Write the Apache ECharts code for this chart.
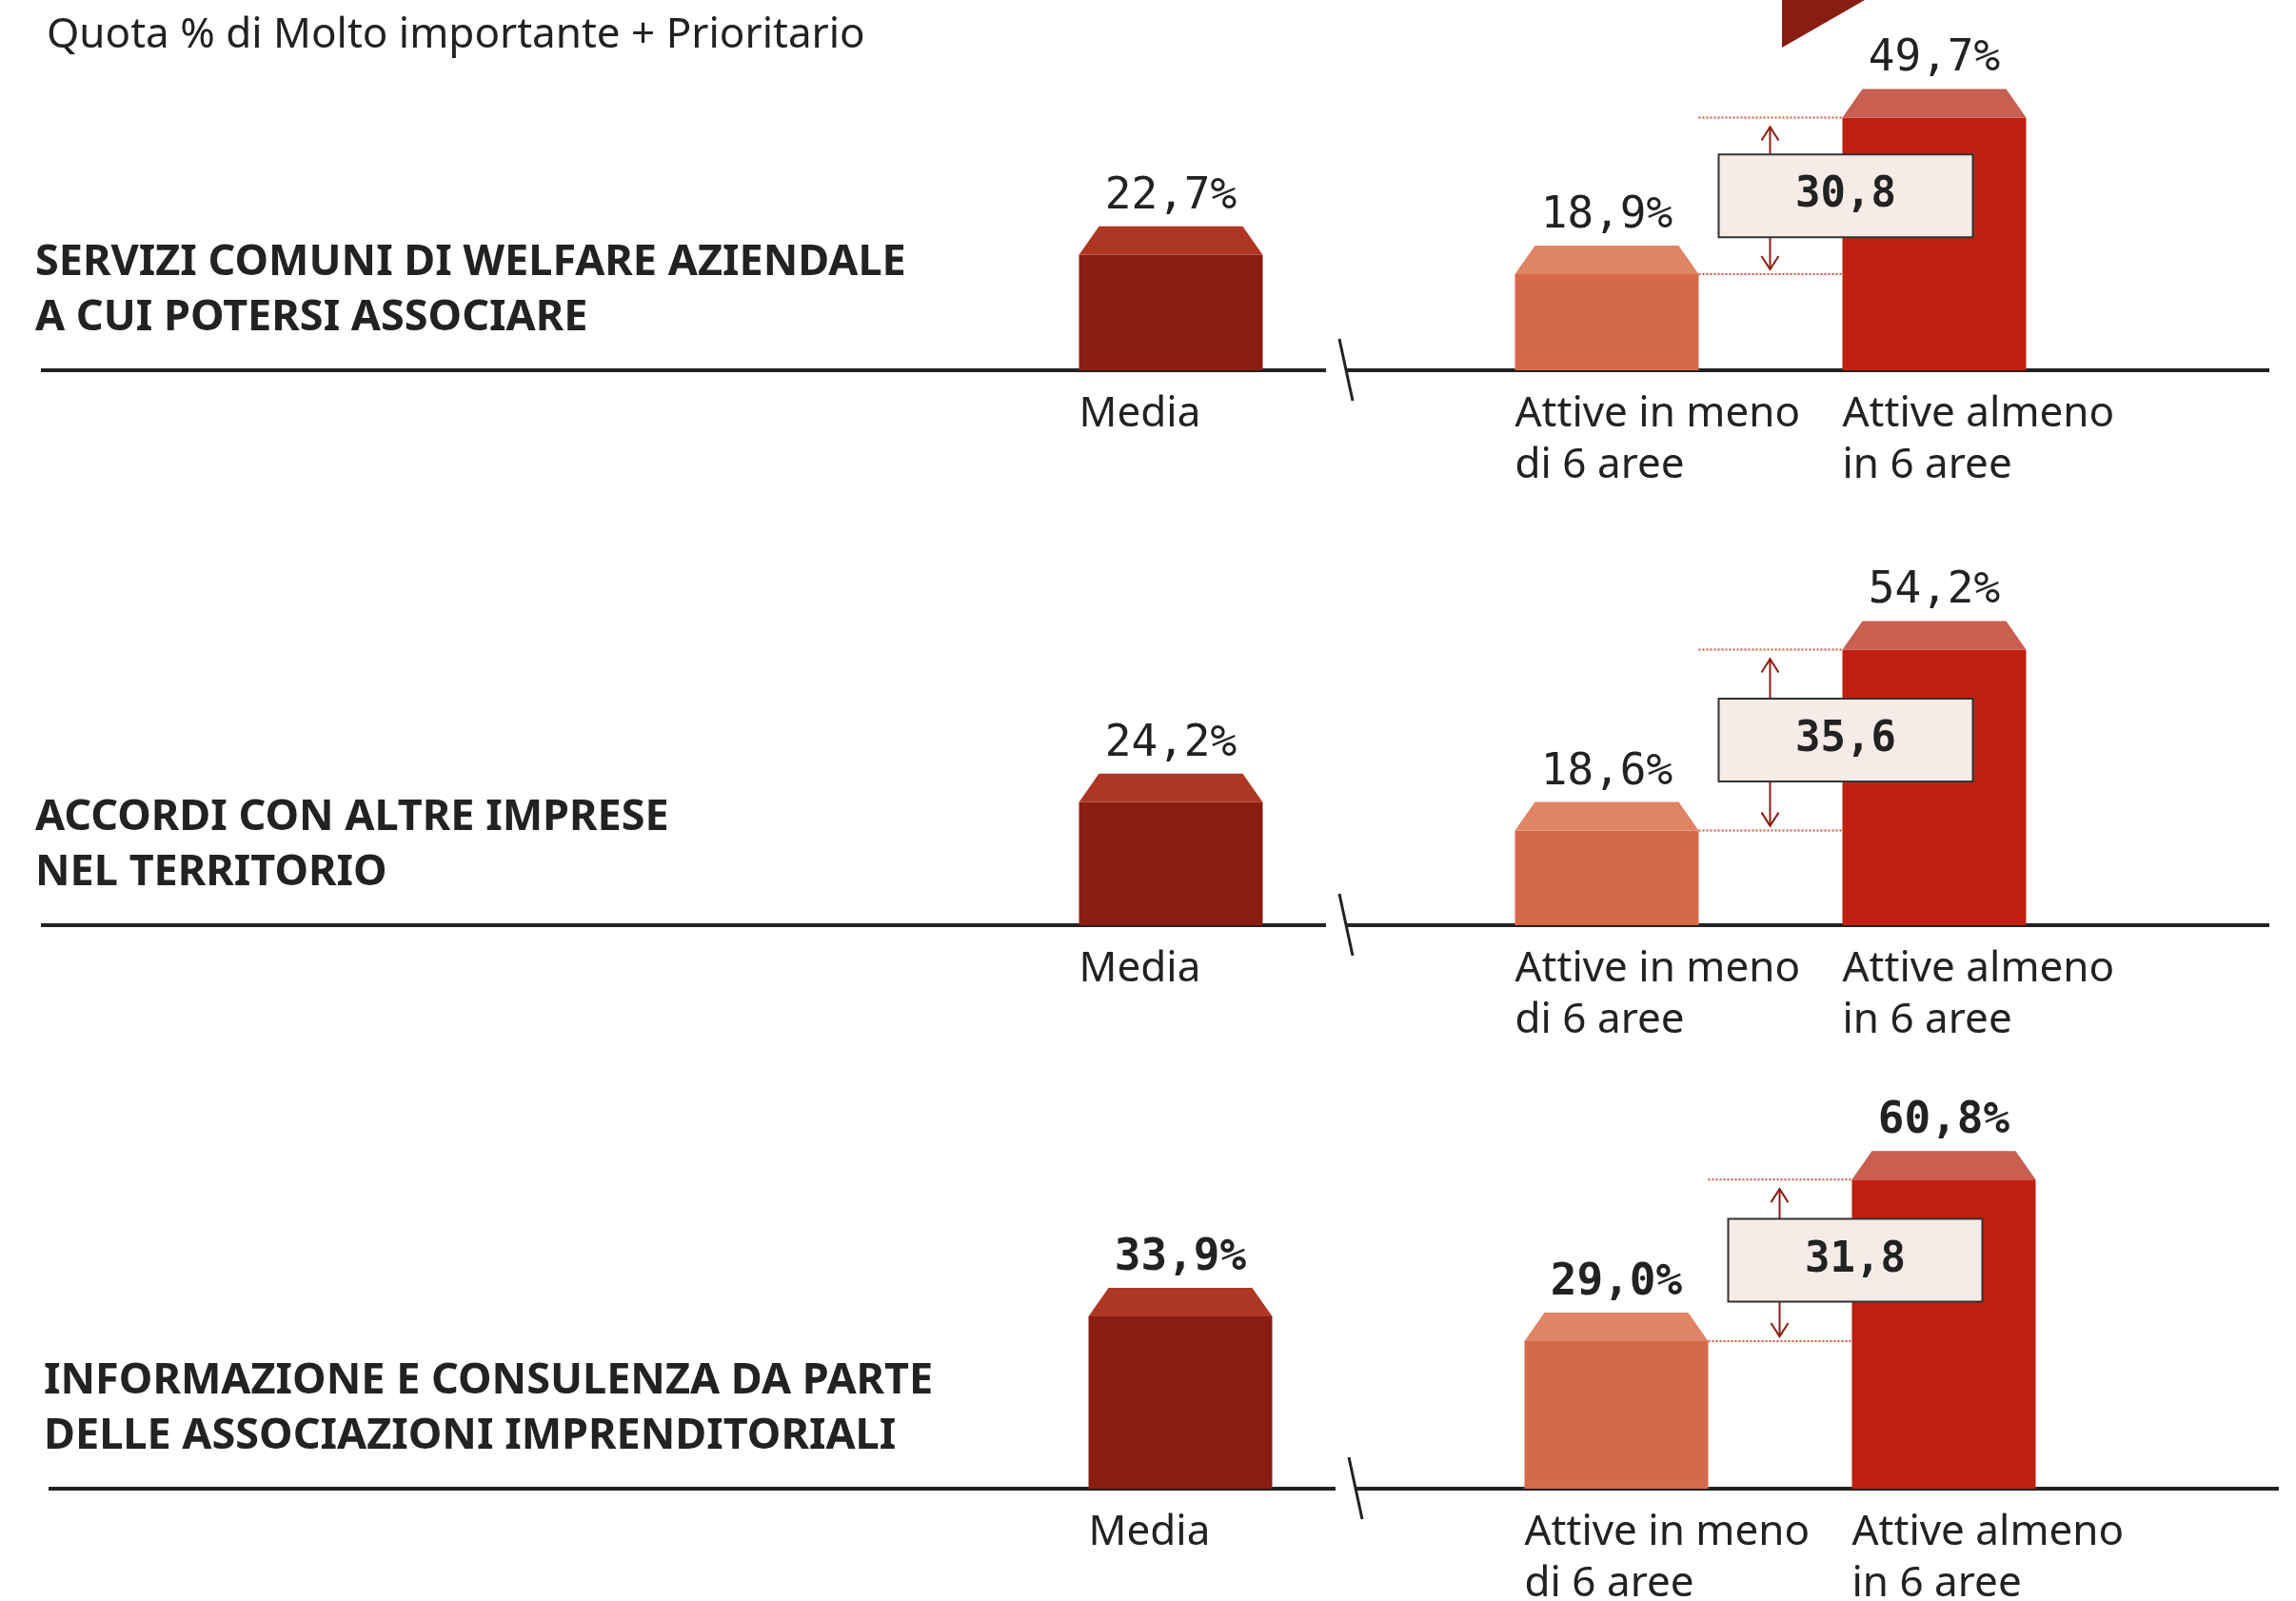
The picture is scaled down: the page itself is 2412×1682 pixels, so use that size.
<!DOCTYPE html>
<html>
<head>
<meta charset="utf-8">
<script src="https://cdn.jsdelivr.net/npm/echarts@6/dist/echarts.min.js"></script>
<style>
  html, body { margin: 0; padding: 0; background: #fff; }
  #main { width: 2412px; height: 1682px; }
</style>
</head>
<body>
<div id="main"></div>
<script>
// data
const heading = 'Quota % di Molto importante + Prioritario';
const topics = [
  'SERVIZI COMUNI DI WELFARE AZIENDALE\nA CUI POTERSI ASSOCIARE',
  'ACCORDI CON ALTRE IMPRESE\nNEL TERRITORIO',
  'INFORMAZIONE E CONSULENZA DA PARTE\nDELLE ASSOCIAZIONI IMPRENDITORIALI'
];
const categories = ['Media', 'Attive in meno\ndi 6 aree', 'Attive almeno\nin 6 aree'];
const mediaValues = [22.7, 24.2, 33.9];
const menoValues = [18.9, 18.6, 29.0];
const almenoValues = [49.7, 54.2, 60.8];
const gapLabels = ['30,8', '35,6', '31,8'];

// layout
const baselines = [389, 972, 1564];
const shiftX = [0, 0, 10];
const topicTops = [247, 830, 1422];
const boldPanel = [false, false, true];
const BAR_W = 193;
const CAP_H = 30;
const CAP_IN = 21;
const PX_PER_PCT = 374 / 70;
const bodyColors = ['#891d11', '#d46a48', '#c02011'];
const capColors = ['#ae3724', '#e08466', '#c85f50'];
const INK = '#222';

var chartDom = document.getElementById('main');
var myChart = echarts.init(chartDom);

function fmt(v) {
  return v.toFixed(1).replace('.', ',') + '%';
}

function barRenderer(colorOffset, bold) {
  return function (params, api) {
    var idx = api.value(0);
    var v = api.value(1);
    var top = api.coord([idx, v]);
    var base = api.coord([idx, 0]);
    var x0 = top[0] - BAR_W / 2;
    var c = colorOffset + idx;
    return {
      type: 'group',
      children: [
        { type: 'rect', shape: { x: x0, y: top[1], width: BAR_W, height: base[1] - top[1] },
          style: { fill: bodyColors[c] } },
        { type: 'polygon',
          shape: { points: [[x0, top[1]], [x0 + CAP_IN, top[1] - CAP_H], [x0 + BAR_W - CAP_IN, top[1] - CAP_H], [x0 + BAR_W, top[1]]] },
          style: { fill: capColors[c] } },
        { type: 'text', x: top[0], y: top[1] - 61,
          style: { text: fmt(v), fill: INK, align: 'center', verticalAlign: 'middle',
                   font: (bold ? 'bold ' : '') + '46px "DejaVu Sans Mono"' } },
        { type: 'text', x: x0, y: base[1] + 19,
          style: { text: categories[c], fill: INK, align: 'left', verticalAlign: 'top',
                   font: '44px "Noto Sans"', lineHeight: 54 } }
      ]
    };
  };
}

function gapRenderer(p) {
  return function (params, api) {
    var lo = api.coord([0, api.value(0)]);
    var hi = api.coord([1, api.value(1)]);
    var left = lo[0] + BAR_W / 2;
    var right = hi[0] - BAR_W / 2;
    var bw = 267, bh = 87;
    var bx = left + 21;
    var by = (lo[1] + hi[1]) / 2 - bh / 2;
    var ax = bx + 54;
    var upTip = hi[1] + 10;
    var downTip = lo[1] - 5;
    var arrowStyle = { stroke: '#8b1c11', lineWidth: 2, fill: null };
    var dotStyle = { stroke: '#d9503f', lineWidth: 2, lineDash: [2, 2] };
    return {
      type: 'group',
      children: [
        { type: 'line', shape: { x1: left, y1: hi[1], x2: right, y2: hi[1] }, style: dotStyle },
        { type: 'line', shape: { x1: left, y1: lo[1], x2: right, y2: lo[1] }, style: dotStyle },
        { type: 'line', shape: { x1: ax, y1: by, x2: ax, y2: upTip }, style: arrowStyle },
        { type: 'polyline', shape: { points: [[ax - 9, upTip + 14], [ax, upTip], [ax + 9, upTip + 14]] }, style: arrowStyle },
        { type: 'line', shape: { x1: ax, y1: by + bh, x2: ax, y2: downTip }, style: arrowStyle },
        { type: 'polyline', shape: { points: [[ax - 9, downTip - 14], [ax, downTip], [ax + 9, downTip - 14]] }, style: arrowStyle },
        { type: 'rect', shape: { x: bx, y: by, width: bw, height: bh },
          style: { fill: '#f5ece8', stroke: '#333', lineWidth: 2 } },
        { type: 'text', x: bx + bw / 2, y: by + bh / 2,
          style: { text: gapLabels[p], fill: INK, align: 'center', verticalAlign: 'middle',
                   font: 'bold 44px "DejaVu Sans Mono"' } }
      ]
    };
  };
}

var grids = [], xAxes = [], yAxes = [], series = [], titles = [], graphics = [];

titles.push({
  text: heading, left: 49, top: 12, padding: 0,
  textStyle: { fontFamily: 'Noto Sans', fontWeight: 'normal', fontSize: 44, lineHeight: 50, color: INK }
});

for (var p = 0; p < 3; p++) {
  var base = baselines[p];
  var dx = shiftX[p];
  var gTop = base - 70 * PX_PER_PCT;
  // left grid: Media
  grids.push({ left: 1230 + dx - 150, top: gTop, width: 300, height: 70 * PX_PER_PCT });
  // right grid: the two groups
  grids.push({ left: 1688 + dx - 172, top: gTop, width: 688, height: 70 * PX_PER_PCT });
  xAxes.push({ type: 'category', gridIndex: 2 * p, data: [categories[0]], show: false });
  xAxes.push({ type: 'category', gridIndex: 2 * p + 1, data: [categories[1], categories[2]], show: false });
  yAxes.push({ type: 'value', gridIndex: 2 * p, min: 0, max: 70, show: false });
  yAxes.push({ type: 'value', gridIndex: 2 * p + 1, min: 0, max: 70, show: false });

  series.push({
    type: 'custom', name: 'Media', xAxisIndex: 2 * p, yAxisIndex: 2 * p,
    renderItem: barRenderer(0, boldPanel[p]),
    data: [[0, mediaValues[p]]]
  });
  series.push({
    type: 'custom', name: 'Gruppi', xAxisIndex: 2 * p + 1, yAxisIndex: 2 * p + 1,
    renderItem: barRenderer(1, boldPanel[p]),
    data: [[0, menoValues[p]], [1, almenoValues[p]]]
  });
  series.push({
    type: 'custom', name: 'Differenza', xAxisIndex: 2 * p + 1, yAxisIndex: 2 * p + 1,
    renderItem: gapRenderer(p),
    data: [[menoValues[p], almenoValues[p]]],
    z: 3
  });

  titles.push({
    text: topics[p], left: 37 + (p === 2 ? 9 : 0), top: topicTops[p], padding: 0,
    textStyle: { fontFamily: 'Noto Sans', fontWeight: 'bold', fontSize: 45, lineHeight: 58, color: INK }
  });

  // baseline with break mark
  var lx0 = 43 + (p === 2 ? 8 : 0);
  graphics.push({ type: 'line', shape: { x1: lx0, y1: base, x2: 1393 + dx, y2: base }, style: { stroke: INK, lineWidth: 4 } });
  graphics.push({ type: 'line', shape: { x1: 1415 + dx, y1: base, x2: 2384 + dx, y2: base }, style: { stroke: INK, lineWidth: 4 } });
  graphics.push({ type: 'line', shape: { x1: 1407 + dx, y1: base - 33, x2: 1421 + dx, y2: base + 32 }, style: { stroke: INK, lineWidth: 3 } });
}

// corner mark cut off at the top
graphics.push({ type: 'polygon', shape: { points: [[1872, 0], [1959, 0], [1872, 50]] }, style: { fill: '#891d11' } });

var option = {
  backgroundColor: '#fff',
  animation: false,
  title: titles,
  grid: grids,
  xAxis: xAxes,
  yAxis: yAxes,
  series: series,
  graphic: graphics
};

option && myChart.setOption(option);
</script>
</body>
</html>
